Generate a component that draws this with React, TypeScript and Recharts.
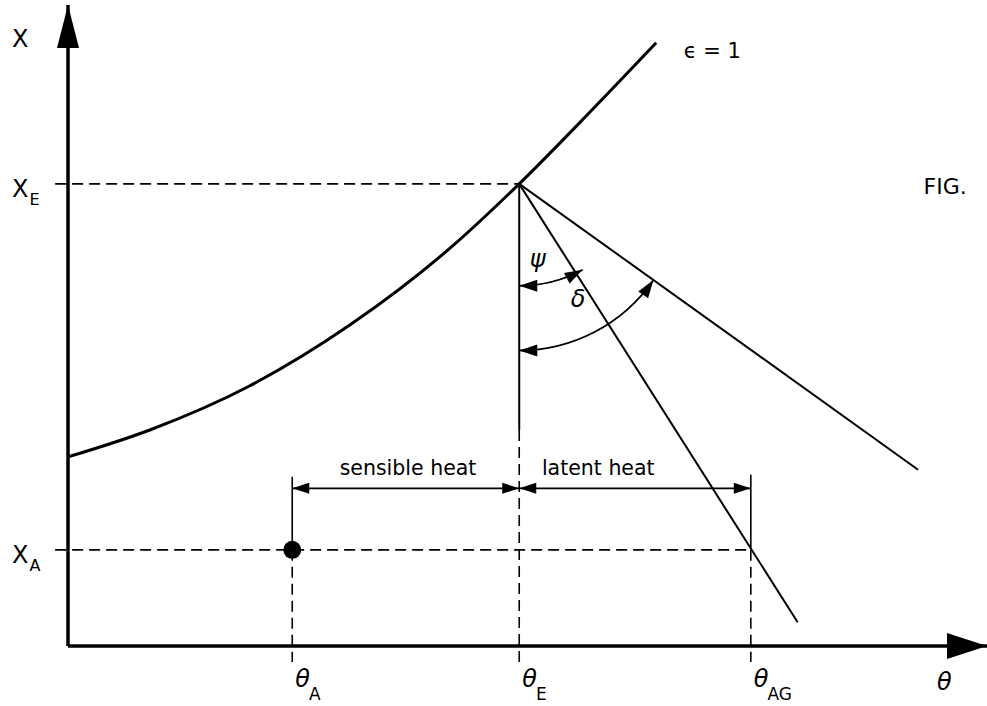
import React from 'react';
import { ComposedChart, Line, XAxis, YAxis, ReferenceLine, ReferenceDot } from 'recharts';

// Temperature (θ) positions on the horizontal axis
const thetaA = 24.4;
const thetaE = 49.1;
const thetaAG = 74.3;
const thetaMax = 100;
const thetaTicks = [thetaA, thetaE, thetaAG];
const thetaTickSubs = ['A', 'E', 'AG'];

// Humidity (X) positions on the vertical axis
const xA = 15.0;
const xE = 72.1;
const xMax = 100;
const xTicks = [xA, xE];
const xTickSubs = ['A', 'E'];

// Saturation curve ε = 1
const saturationTheta = [0, 8.9, 19.8, 30.7, 41.6, 49.1, 56.8, 64.0];
const saturationX = [29.5, 33.7, 40.6, 50.1, 62.1, 72.1, 83.3, 94.1];

// Straight process lines leaving point E
const psiLineEnd = { theta: 79.4, x: 3.7 };
const deltaLineEnd = { theta: 92.5, x: 27.5 };

// Angle arcs (start on the vertical through E, end on the line)
const psiArc = [{ theta: thetaE, x: 56.2 }, { theta: 56.0, x: 58.7 }];
const deltaArc = [{ theta: thetaE, x: 46.1 }, { theta: 63.7, x: 57.1 }];

// Heat dimension line level and extension line tops
const heatLevel = 24.6;
const extTopA = 26.4;
const extTopAG = 26.7;
const eSolidBottom = 33.7;
const dashLeft = -1.4;
const dashBottom = -2.5;

const curveData = saturationTheta.map((t, i) => ({ theta: t, x: saturationX[i] }));
const psiData = [{ theta: thetaE, x: xE }, psiLineEnd];
const deltaData = [{ theta: thetaE, x: xE }, deltaLineEnd];

const INK = '#000';
const FONT = 'DejaVu Sans';
const DASH = '11 6';

const arrowHead = (tx: number, ty: number, dx: number, dy: number, len: number, hw: number) => {
  const n = Math.hypot(dx, dy) || 1;
  const ux = dx / n;
  const uy = dy / n;
  const bx = tx - ux * len;
  const by = ty - uy * len;
  return `${tx},${ty} ${bx - uy * hw},${by + ux * hw} ${bx + uy * hw},${by - ux * hw}`;
};

// Dimension line with outward arrowheads at both ends
const DimLine = (props: any) => {
  const { x1, y1, x2, y2 } = props;
  return (
    <g>
      <line x1={x1} y1={y1} x2={x2} y2={y2} stroke={INK} strokeWidth={1.8} />
      <polygon points={arrowHead(x1, y1, x1 - x2, y1 - y2, 17, 5.5)} fill={INK} />
      <polygon points={arrowHead(x2, y2, x2 - x1, y2 - y1, 17, 5.5)} fill={INK} />
    </g>
  );
};

// Circular arc centred on the vertical above its start point, arrowheads at both ends
const AngleArc = (props: any) => {
  const { x1, y1, x2, y2 } = props;
  const yc = ((x2 - x1) ** 2 + y2 * y2 - y1 * y1) / (2 * (y2 - y1));
  const r = y1 - yc;
  const dx = x2 - x1;
  const dy = y2 - yc;
  return (
    <g>
      <path d={`M ${x1} ${y1} A ${r} ${r} 0 0 0 ${x2} ${y2}`} fill="none" stroke={INK} strokeWidth={1.8} />
      <polygon points={arrowHead(x1, y1, -1, 0, 18, 6)} fill={INK} />
      <polygon points={arrowHead(x2, y2, dy, -dx, 18, 6)} fill={INK} />
    </g>
  );
};

const textMark = (content: React.ReactNode, size: number, anchor: string, italic: boolean, baseline?: string) =>
  (p: any) => (
    <text
      x={p.cx}
      y={p.cy}
      fontFamily={FONT}
      fontSize={size}
      fontStyle={italic ? 'italic' : 'normal'}
      textAnchor={anchor}
      dominantBaseline={baseline || 'alphabetic'}
      fill={INK}
    >
      {content}
    </text>
  );

const ThetaTick = (props: any) => {
  const { x, y, index } = props;
  return (
    <text x={x + 3} y={y + 41} fontFamily={FONT} fontSize={24} fill={INK}>
      <tspan fontStyle="italic">θ</tspan>
      <tspan dy={13} dx={-1} fontSize={17}>{thetaTickSubs[index]}</tspan>
    </text>
  );
};

const XTick = (props: any) => {
  const { x, y, index } = props;
  return (
    <text x={x - 56} y={y + 13} fontFamily={FONT} fontSize={24} fill={INK}>
      X<tspan dy={8} dx={1} fontSize={16}>{xTickSubs[index]}</tspan>
    </text>
  );
};

const UpArrow = (p: any) => (
  <g>
    <polygon points={arrowHead(p.cx, p.cy, 0, -1, 43, 11)} fill={INK} />
    <text x={p.cx - 56} y={p.cy + 42} fontFamily={FONT} fontSize={24} fill={INK}>X</text>
  </g>
);

const RightArrow = (p: any) => (
  <g>
    <polygon points={arrowHead(p.cx, p.cy, 1, 0, 40, 13)} fill={INK} />
    <text x={p.cx - 50} y={p.cy + 44} fontFamily={FONT} fontSize={24} fontStyle="italic" fill={INK}>θ</text>
  </g>
);

export default function App() {
  return (
    <div style={{ position: 'absolute', left: 0, top: 0, background: '#fff' }}>
      <ComposedChart
        width={987}
        height={706}
        data={curveData}
        margin={{ top: 5, right: 0, bottom: 0, left: 8 }}
      >
        <XAxis
          type="number"
          dataKey="theta"
          domain={[0, thetaMax]}
          ticks={thetaTicks}
          tick={<ThetaTick />}
          tickLine={false}
          tickSize={0}
          tickMargin={0}
          height={60}
          axisLine={{ stroke: INK, strokeWidth: 3.5 }}
          allowDataOverflow
        />
        <YAxis
          type="number"
          domain={[0, xMax]}
          ticks={xTicks}
          tick={<XTick />}
          tickLine={false}
          tickSize={0}
          tickMargin={0}
          width={60}
          axisLine={{ stroke: INK, strokeWidth: 3.5 }}
          allowDataOverflow
        />

        {/* dashed construction lines */}
        <ReferenceLine segment={[{ x: dashLeft, y: xE }, { x: thetaE, y: xE }]} stroke={INK} strokeWidth={1.6} strokeDasharray={DASH} ifOverflow="visible" />
        <ReferenceLine segment={[{ x: dashLeft, y: xA }, { x: thetaAG, y: xA }]} stroke={INK} strokeWidth={1.6} strokeDasharray={DASH} ifOverflow="visible" />
        <ReferenceLine segment={[{ x: thetaA, y: xA }, { x: thetaA, y: dashBottom }]} stroke={INK} strokeWidth={1.6} strokeDasharray={DASH} ifOverflow="visible" />
        <ReferenceLine segment={[{ x: thetaE, y: eSolidBottom }, { x: thetaE, y: dashBottom }]} stroke={INK} strokeWidth={1.6} strokeDasharray={DASH} ifOverflow="visible" />
        <ReferenceLine segment={[{ x: thetaAG, y: xA }, { x: thetaAG, y: dashBottom }]} stroke={INK} strokeWidth={1.6} strokeDasharray={DASH} ifOverflow="visible" />

        {/* solid extension lines */}
        <ReferenceLine segment={[{ x: thetaA, y: extTopA }, { x: thetaA, y: xA }]} stroke={INK} strokeWidth={1.6} ifOverflow="visible" />
        <ReferenceLine segment={[{ x: thetaAG, y: extTopAG }, { x: thetaAG, y: xA }]} stroke={INK} strokeWidth={1.6} ifOverflow="visible" />
        <ReferenceLine segment={[{ x: thetaE, y: xE }, { x: thetaE, y: eSolidBottom }]} stroke={INK} strokeWidth={2} ifOverflow="visible" />

        {/* sensible / latent heat dimensions */}
        <ReferenceLine segment={[{ x: thetaA, y: heatLevel }, { x: thetaE, y: heatLevel }]} shape={DimLine} ifOverflow="visible" />
        <ReferenceLine segment={[{ x: thetaE, y: heatLevel }, { x: thetaAG, y: heatLevel }]} shape={DimLine} ifOverflow="visible" />

        {/* angle arcs */}
        <ReferenceLine segment={[{ x: psiArc[0].theta, y: psiArc[0].x }, { x: psiArc[1].theta, y: psiArc[1].x }]} shape={AngleArc} ifOverflow="visible" />
        <ReferenceLine segment={[{ x: deltaArc[0].theta, y: deltaArc[0].x }, { x: deltaArc[1].theta, y: deltaArc[1].x }]} shape={AngleArc} ifOverflow="visible" />

        <Line type="monotone" dataKey="x" stroke={INK} strokeWidth={3} dot={false} isAnimationActive={false} />
        <Line data={psiData} type="linear" dataKey="x" stroke={INK} strokeWidth={2} dot={false} isAnimationActive={false} />
        <Line data={deltaData} type="linear" dataKey="x" stroke={INK} strokeWidth={2} dot={false} isAnimationActive={false} />

        <ReferenceDot x={thetaA} y={xA} r={9} fill={INK} stroke="none" ifOverflow="visible" />

        {/* axis arrowheads and titles */}
        <ReferenceDot x={0} y={xMax} ifOverflow="visible" shape={UpArrow} />
        <ReferenceDot x={thetaMax} y={0} ifOverflow="visible" shape={RightArrow} />

        {/* annotations */}
        <ReferenceDot x={37.0} y={26.7} ifOverflow="visible" shape={textMark('sensible heat', 20.5, 'middle', false)} />
        <ReferenceDot x={57.7} y={26.7} ifOverflow="visible" shape={textMark('latent heat', 20.5, 'middle', false)} />
        <ReferenceDot x={51.1} y={60.4} ifOverflow="visible" shape={textMark('ψ', 24, 'middle', true, 'central')} />
        <ReferenceDot x={55.5} y={54.1} ifOverflow="visible" shape={textMark('δ', 24, 'middle', true, 'central')} />
        <ReferenceDot x={67.0} y={91.7} ifOverflow="visible" shape={textMark('ϵ = 1', 21, 'start', false)} />
        <ReferenceDot x={93.1} y={70.5} ifOverflow="visible" shape={textMark('FIG.', 22, 'start', false)} />
      </ComposedChart>
    </div>
  );
}
